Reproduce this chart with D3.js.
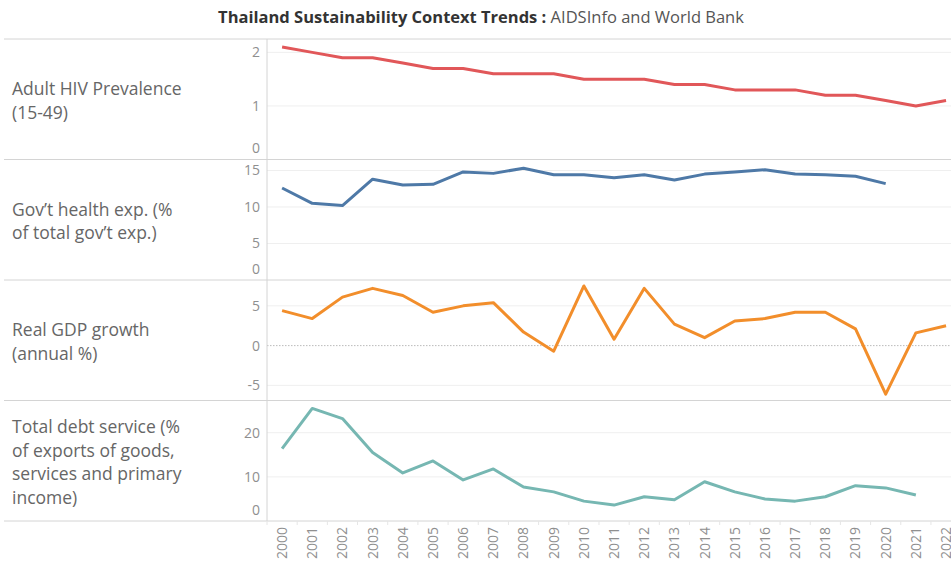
<!DOCTYPE html>
<html>
<head>
<meta charset="utf-8">
<script src="https://cdn.jsdelivr.net/npm/d3@7"></script>
<style>
  body { margin: 0; background: #fff; }
  svg { display: block; font-family: "Open Sans", sans-serif; }
</style>
</head>
<body>
<div id="chart"></div>
<script>

// Data (null = no value)
var years = [2000, 2001, 2002, 2003, 2004, 2005, 2006, 2007, 2008, 2009, 2010, 2011,
             2012, 2013, 2014, 2015, 2016, 2017, 2018, 2019, 2020, 2021, 2022];

var hivPrevalence = [2.1, 2.0, 1.9, 1.9, 1.8, 1.7, 1.7, 1.6, 1.6, 1.6, 1.5, 1.5,
                     1.5, 1.4, 1.4, 1.3, 1.3, 1.3, 1.2, 1.2, 1.1, 1.0, 1.1];

var govHealthExp = [12.6, 10.5, 10.2, 13.8, 13.0, 13.1, 14.8, 14.6, 15.3, 14.4, 14.4, 14.0,
                    14.4, 13.7, 14.5, 14.8, 15.1, 14.5, 14.4, 14.2, 13.2, null, null];

var gdpGrowth = [4.4, 3.4, 6.1, 7.2, 6.3, 4.2, 5.0, 5.4, 1.7, -0.7, 7.5, 0.8,
                 7.2, 2.7, 1.0, 3.1, 3.4, 4.2, 4.2, 2.1, -6.1, 1.6, 2.5];

var debtService = [16.4, 25.5, 23.2, 15.5, 10.9, 13.6, 9.3, 11.8, 7.7, 6.6, 4.5, 3.6,
                   5.5, 4.8, 8.9, 6.6, 5.0, 4.5, 5.5, 8.0, 7.5, 5.9, null];

var rowLabels = [
    ["Adult HIV Prevalence", "(15-49)"],
    ["Gov\u2019t health exp. (%", "of total gov\u2019t exp.)"],
    ["Real GDP growth", "(annual %)"],
    ["Total debt service (%", "of exports of goods,", "services and primary", "income)"]
];

var panels = [
    { values: hivPrevalence, label: rowLabels[0], color: "#e15759", domain: [0, 2.25], ticks: [0, 1, 2] },
    { values: govHealthExp, label: rowLabels[1], color: "#4e79a7", domain: [0, 16.5], ticks: [0, 5, 10, 15] },
    { values: gdpGrowth, label: rowLabels[2], color: "#f28e2b", domain: [-6.9, 8.25], ticks: [-5, 0, 5] },
    { values: debtService, label: rowLabels[3], color: "#76b7b2", domain: [0, 27.3], ticks: [0, 10, 20] }
];

var width = 951, height = 561;
var axisX = 267;
var plotTop = 39, plotBottom = 521;
var rowH = (plotBottom - plotTop) / panels.length;
var lineColor = "#d4d4d4";

var svg = d3.select("#chart").append("svg")
    .attr("width", width)
    .attr("height", height);

// Title
var title = svg.append("text")
    .attr("x", 481)
    .attr("y", 23)
    .attr("text-anchor", "middle")
    .style("font-size", "16.5px");
title.append("tspan")
    .attr("font-weight", "bold")
    .attr("fill", "#333")
    .text("Thailand Sustainability Context Trends :");
title.append("tspan")
    .attr("fill", "#555")
    .text(" AIDSInfo and World Bank");

// x scale: one band per year, the last one runs past the right edge
var x = d3.scaleBand()
    .domain(years)
    .range([axisX, axisX + years.length * 30.18]);

panels.forEach(function (p, i) {
    var y0 = plotTop + i * rowH, y1 = y0 + rowH;
    var y = d3.scaleLinear().domain(p.domain).range([y1, y0]);
    var g = svg.append("g");

    // gridlines
    g.selectAll(".grid")
        .data(p.ticks.filter(function (t) { return Math.abs(y(t) - y1) > 1; }))
        .enter()
        .append("line")
        .attr("x1", axisX)
        .attr("x2", width)
        .attr("y1", function (t) { return y(t); })
        .attr("y2", function (t) { return y(t); })
        .attr("stroke", function (t) { return t === 0 ? "#bbb" : "#efefef"; })
        .attr("stroke-width", 1)
        .attr("stroke-dasharray", function (t) { return t === 0 ? "1.5,1.5" : null; });

    // tick labels, nudged inside the row at the bottom edge
    g.selectAll(".tick")
        .data(p.ticks)
        .enter()
        .append("text")
        .attr("x", 260)
        .attr("y", function (t) { return Math.min(y(t), y1 - 11); })
        .attr("dy", "0.35em")
        .attr("text-anchor", "end")
        .attr("fill", "#8f8f8f")
        .style("font-size", "14px")
        .text(function (t) { return t; });

    // row label
    var lh = 23.5;
    var startY = (y0 + y1) / 2 + 1.5 - (p.label.length - 1) * lh / 2;
    g.selectAll(".rowLabel")
        .data(p.label)
        .enter()
        .append("text")
        .attr("x", 12)
        .attr("y", function (d, k) { return startY + k * lh; })
        .attr("dy", "0.35em")
        .attr("fill", "#666")
        .style("font-size", "17.5px")
        .text(function (d) { return d; });

    // line
    var line = d3.line()
        .defined(function (d) { return d != null; })
        .x(function (d, k) { return x(years[k]) + x.bandwidth() / 2; })
        .y(function (d) { return y(d); });

    g.append("path")
        .datum(p.values)
        .attr("fill", "none")
        .attr("stroke", p.color)
        .attr("stroke-width", 3)
        .attr("stroke-linejoin", "round")
        .attr("d", line);
});

// row separators
svg.selectAll(".sep")
    .data(d3.range(panels.length + 1))
    .enter()
    .append("line")
    .attr("x1", 4)
    .attr("x2", width)
    .attr("y1", function (k) { return plotTop + k * rowH; })
    .attr("y2", function (k) { return plotTop + k * rowH; })
    .attr("stroke", lineColor);

// vertical axis line
svg.append("line")
    .attr("x1", axisX).attr("x2", axisX)
    .attr("y1", plotTop).attr("y2", plotBottom)
    .attr("stroke", lineColor);

// year boundaries under the last row
svg.selectAll(".yearTick")
    .data(years)
    .enter()
    .append("line")
    .attr("x1", function (d) { return x(d); })
    .attr("x2", function (d) { return x(d); })
    .attr("y1", plotBottom)
    .attr("y2", plotBottom + 4)
    .attr("stroke", "#e6e6e6");

// year labels
var xAxis = svg.append("g")
    .attr("transform", "translate(0," + plotBottom + ")")
    .call(d3.axisBottom(x).tickSize(0));
xAxis.select(".domain").remove();
xAxis.selectAll("text")
    .attr("transform", "rotate(-90)")
    .attr("x", -6)
    .attr("y", 0)
    .attr("dy", "0.35em")
    .attr("text-anchor", "end")
    .attr("fill", "#8f8f8f")
    .style("font-size", "14px")
    .style("font-family", "'Open Sans', sans-serif");

</script>
</body>
</html>
